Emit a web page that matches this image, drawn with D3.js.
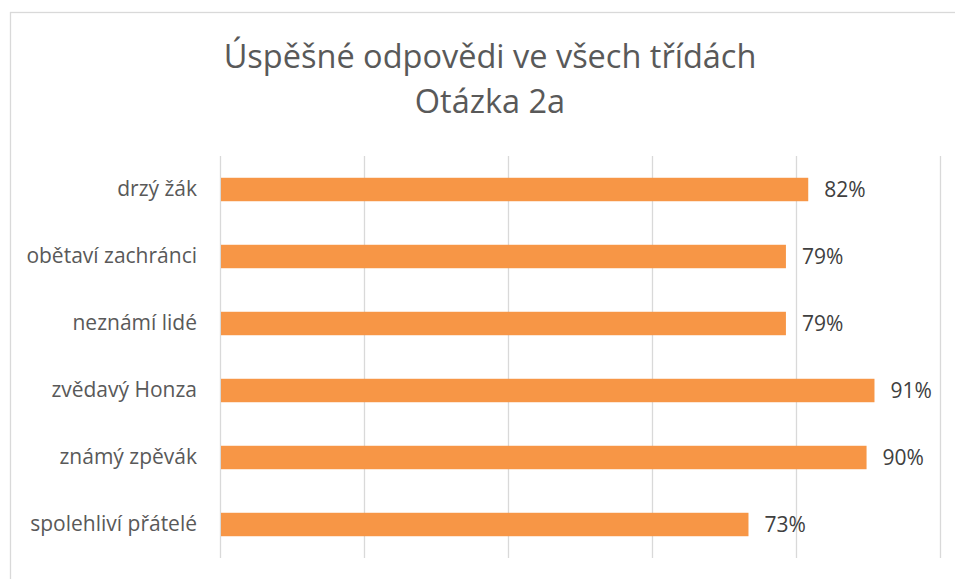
<!DOCTYPE html>
<html>
<head>
<meta charset="utf-8">
<script src="https://d3js.org/d3.v7.min.js"></script>
<style>
  body { margin: 0; background: #fff; }
  text { font-family: "Open Sans", "Noto Sans", sans-serif; }
</style>
</head>
<body>
<div id="chart"></div>
<script>
// data (values in %)
var categories = ["drzý žák", "obětaví zachránci", "neznámí lidé", "zvědavý Honza", "známý zpěvák", "spolehliví přátelé"];
var values = [81.7, 78.6, 78.6, 90.9, 89.8, 73.4];
var xTicks = [0, 20, 40, 60, 80, 100];
var titleLines = ["Úspěšné odpovědi ve všech třídách", "Otázka 2a"];

var data = categories.map(function(c, i) { return {name: c, value: values[i]}; });

// set the dimensions and margins of the graph
var W = 955, H = 579;
var margin = {top: 156, right: 15, bottom: 21, left: 220},
    width = 940 - margin.left,
    height = 558 - margin.top;

var svg = d3.select("#chart")
  .append("svg")
    .attr("width", W)
    .attr("height", H);

// chart frame (runs off the right and bottom of the window)
svg.append("rect")
  .attr("x", 10.5)
  .attr("y", 12.5)
  .attr("width", 960)
  .attr("height", 600)
  .attr("fill", "#fff")
  .attr("stroke", "#d9d9d9")
  .attr("stroke-width", 1.3);

// title
svg.append("text")
  .attr("text-anchor", "middle")
  .attr("fill", "#595959")
  .style("font-size", "32.5px")
  .selectAll("tspan")
  .data(titleLines)
  .enter()
  .append("tspan")
    .attr("x", 490)
    .attr("y", function(d, i) { return 68 + i * 45; })
    .text(function(d) { return d; });

var g = svg.append("g")
  .attr("transform", "translate(" + margin.left + "," + margin.top + ")");

// X scale
var x = d3.scaleLinear()
  .domain([0, 100])
  .range([0, width]);

// Y scale
var y = d3.scaleBand()
  .domain(categories)
  .range([0, height])
  .paddingInner(0.65)
  .paddingOuter(0.325);

// vertical gridlines
g.selectAll(".grid")
  .data(xTicks)
  .enter()
  .append("line")
    .attr("x1", function(d) { return Math.round(x(d)) + 0.5; })
    .attr("x2", function(d) { return Math.round(x(d)) + 0.5; })
    .attr("y1", 0)
    .attr("y2", height)
    .attr("stroke", "#d9d9d9")
    .attr("stroke-width", 1.3);

// bars
g.selectAll(".bar")
  .data(data)
  .enter()
  .append("rect")
    .attr("x", x(0) + 1)
    .attr("y", function(d) { return y(d.name); })
    .attr("width", function(d) { return x(d.value) - x(0) - 1; })
    .attr("height", y.bandwidth())
    .attr("fill", "#f79646");

// category labels
var yAxis = g.append("g")
  .call(d3.axisLeft(y).tickSize(0).tickPadding(23));
yAxis.select(".domain").remove();
yAxis.selectAll("text")
  .attr("fill", "#595959")
  .style("font-size", "21px")
  .style("font-family", "\"Open Sans\", sans-serif");

// value labels
g.selectAll(".val")
  .data(data)
  .enter()
  .append("text")
    .attr("x", function(d) { return x(d.value) + 16; })
    .attr("y", function(d) { return y(d.name) + y.bandwidth() / 2; })
    .attr("dy", "0.35em")
    .attr("fill", "#404040")
    .style("font-size", "21px")
    .text(function(d) { return Math.round(d.value) + "%"; });
</script>
</body>
</html>
